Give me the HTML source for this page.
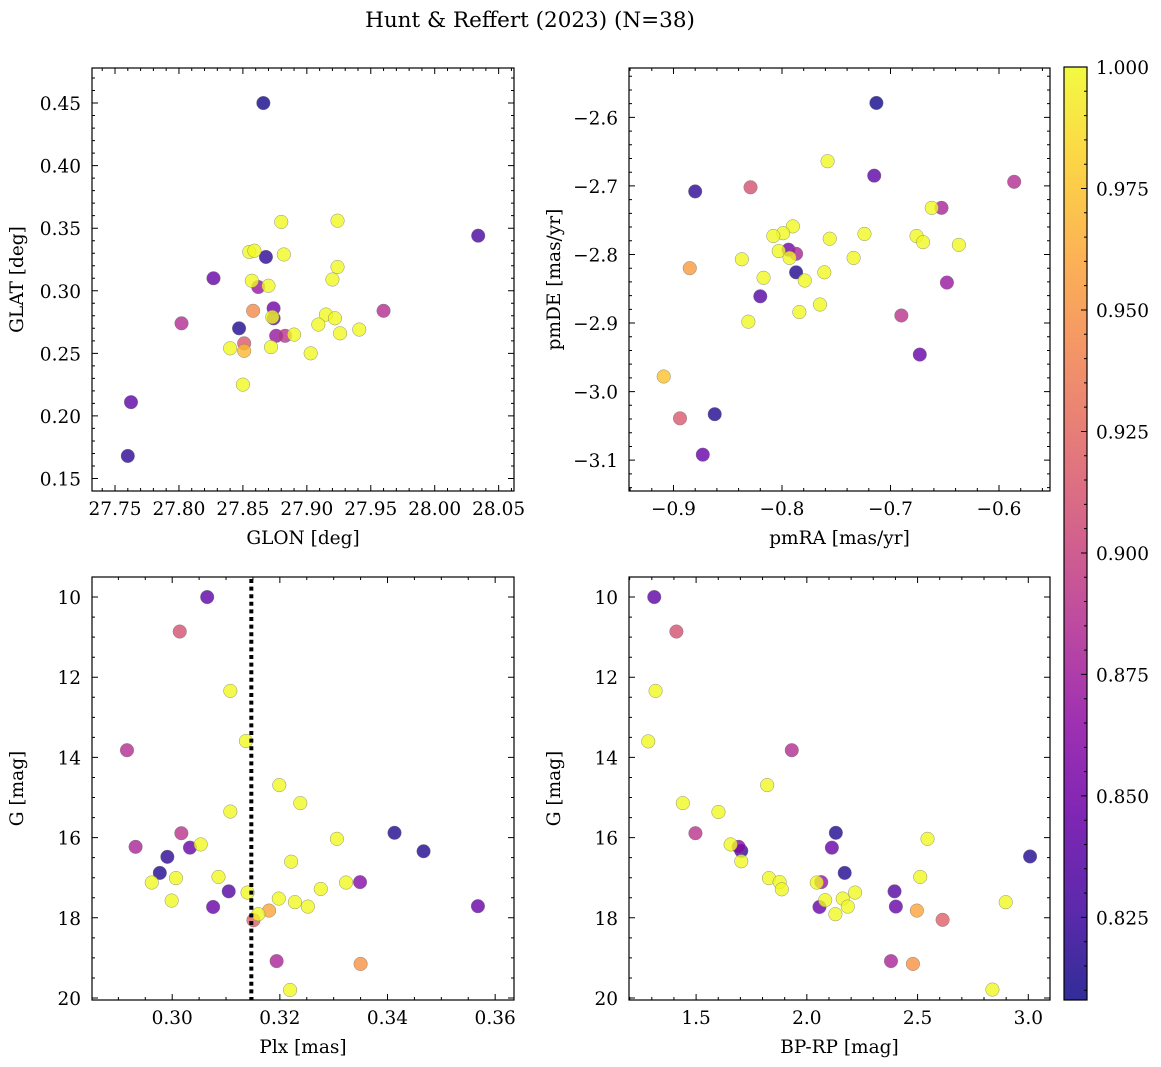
<!DOCTYPE html>
<html><head><meta charset="utf-8"><style>
body{margin:0;background:#fff;}
svg{display:block;font-family:"DejaVu Serif","Liberation Serif",serif;}
</style></head><body>
<svg id="fig" width="1161" height="1067" viewBox="0 0 1161 1067" xmlns="http://www.w3.org/2000/svg">
<defs>
<linearGradient id="plasma" x1="0" y1="1" x2="0" y2="0">
<stop offset="0" stop-color="#0d0887"/><stop offset="0.1" stop-color="#41049d"/><stop offset="0.2" stop-color="#6a00a8"/><stop offset="0.3" stop-color="#8f0da4"/><stop offset="0.4" stop-color="#b12a90"/><stop offset="0.5" stop-color="#cc4778"/><stop offset="0.6" stop-color="#e16462"/><stop offset="0.7" stop-color="#f2844b"/><stop offset="0.8" stop-color="#fca636"/><stop offset="0.9" stop-color="#fcce25"/><stop offset="1" stop-color="#f0f921"/>
</linearGradient>
</defs>
<text x="530" y="27" font-size="21.5" text-anchor="middle">Hunt &amp; Reffert (2023) (N=38)</text>
</svg>
<script>
// Panel 1: GLON / GLAT
const p1Glon=[27.866,28.034,27.7625,27.760,27.802,27.827,27.880,27.924,27.855,27.859,27.868,27.882,27.924,27.920,27.857,27.862,27.870,27.858,27.874,27.874,27.873,27.960,27.915,27.922,27.909,27.847,27.926,27.941,27.876,27.883,27.890,27.851,27.851,27.840,27.872,27.903,27.850];
const p1Glat=[0.450,0.344,0.211,0.168,0.274,0.310,0.355,0.356,0.331,0.332,0.327,0.329,0.319,0.309,0.308,0.303,0.304,0.284,0.286,0.278,0.279,0.284,0.281,0.278,0.273,0.270,0.266,0.269,0.264,0.264,0.265,0.258,0.252,0.254,0.255,0.250,0.225];
const p1Prob=[0.81,0.83,0.84,0.82,0.885,0.845,1,1,1,1,0.82,1,1,1,1,0.87,1,0.945,0.85,0.84,1,0.885,1,1,1,0.815,1,1,0.87,0.89,1,0.915,0.97,1,1,1,1];
// Panel 2: pmRA / pmDE
const p2PmRA=[-0.713,-0.758,-0.715,-0.586,-0.880,-0.829,-0.662,-0.653,-0.790,-0.799,-0.808,-0.756,-0.724,-0.676,-0.670,-0.637,-0.794,-0.787,-0.803,-0.793,-0.837,-0.734,-0.885,-0.787,-0.761,-0.779,-0.817,-0.648,-0.820,-0.765,-0.784,-0.690,-0.831,-0.673,-0.909,-0.862,-0.894,-0.873];
const p2PmDE=[-2.579,-2.664,-2.685,-2.694,-2.708,-2.702,-2.732,-2.732,-2.759,-2.769,-2.773,-2.777,-2.770,-2.773,-2.782,-2.786,-2.793,-2.799,-2.795,-2.805,-2.807,-2.805,-2.820,-2.826,-2.826,-2.838,-2.834,-2.841,-2.861,-2.873,-2.884,-2.889,-2.898,-2.946,-2.978,-3.033,-3.039,-3.092];
const p2Prob=[0.81,1,0.84,0.885,0.82,0.91,1,0.88,1,1,1,1,1,1,1,1,0.85,0.88,1,1,1,1,0.955,0.815,1,1,1,0.87,0.835,1,1,0.89,1,0.845,0.975,0.815,0.915,0.845];
// Panel 3: Plx / G
const p3Plx=[0.3065,0.3014,0.3108,0.3137,0.2916,0.3199,0.3238,0.3108,0.3017,0.3413,0.3306,0.2932,0.3033,0.3053,0.2991,0.3467,0.3221,0.2977,0.2962,0.3007,0.3086,0.3105,0.3323,0.3349,0.3276,0.3140,0.2999,0.3076,0.3198,0.3228,0.3252,0.3568,0.3180,0.3160,0.3151,0.3194,0.3350,0.3219];
const p3G=[10.0,10.86,12.34,13.59,13.82,14.69,15.14,15.35,15.89,15.88,16.03,16.23,16.25,16.17,16.48,16.34,16.60,16.88,17.12,17.01,16.98,17.34,17.12,17.11,17.28,17.37,17.57,17.73,17.52,17.61,17.72,17.71,17.82,17.91,18.06,19.08,19.15,19.80];
const p3Prob=[0.84,0.91,1,1,0.885,1,1,1,0.89,0.815,1,0.88,0.845,1,0.82,0.815,1,0.815,1,1,1,0.835,1,0.86,1,1,1,0.845,1,1,1,0.845,0.96,1,0.92,0.88,0.95,1];
const plxRef=0.3147;
// Panel 4: BP-RP / G
const p4Color=[1.311,1.411,1.317,1.284,1.932,1.821,1.440,1.601,1.497,2.131,2.545,2.113,1.656,1.692,1.704,3.008,1.704,2.171,1.829,1.877,1.887,2.065,2.045,2.512,2.218,2.396,2.162,2.083,2.185,2.057,2.402,2.129,2.497,2.898,2.613,2.380,2.479,2.838];
const p4G=[10.00,10.86,12.34,13.60,13.82,14.69,15.14,15.36,15.89,15.88,16.03,16.25,16.17,16.23,16.33,16.47,16.59,16.88,17.01,17.11,17.29,17.11,17.12,16.98,17.37,17.34,17.52,17.56,17.72,17.73,17.72,17.91,17.82,17.61,18.05,19.08,19.15,19.79];
const p4Prob=[0.84,0.91,1,1,0.885,1,1,1,0.89,0.815,1,0.845,1,0.86,0.82,0.815,1,0.815,1,1,1,0.87,1,1,1,0.835,1,1,1,0.845,0.845,1,0.96,1,0.92,0.88,0.95,1];
// Colorbar ticks
const cbTicks=[0.825,0.850,0.875,0.900,0.925,0.950,0.975,1.000];
const cMin=0.808,cMax=1.0;

const NS="http://www.w3.org/2000/svg";
const svg=document.getElementById('fig');
const FS=18.5;
const stops=[[13,8,135],[65,4,157],[106,0,168],[143,13,164],[177,42,144],[204,71,120],[225,100,98],[242,132,75],[252,166,54],[252,206,37],[240,249,33]];
function plasma(v){let t=(v-cMin)/(cMax-cMin);t=Math.max(0,Math.min(1,t))*10;const i=Math.min(9,Math.floor(t));const f=t-i;const a=stops[i],b=stops[i+1];return 'rgb('+[0,1,2].map(k=>Math.round(a[k]+(b[k]-a[k])*f)).join(',')+')';}
function mk(tag,attrs,parent){const e=document.createElementNS(NS,tag);for(const k in attrs)e.setAttribute(k,attrs[k]);(parent||svg).appendChild(e);return e;}
function fmt(v,d){const s=Math.abs(v).toFixed(d);return (v<-1e-9?'\u2212':'')+s;}

function panel(o){
  const g=mk('g',{});
  
  
  const sx=v=>o.x0+(v-o.xd[0])/(o.xd[1]-o.xd[0])*(o.x1-o.x0);
  const sy=v=>o.y1-(v-o.yd[0])/(o.yd[1]-o.yd[0])*(o.y1-o.y0);
  const pg=mk('g',{},g);
  
  
  const idx=o.xs.map((_,i)=>i).sort((a,b)=>o.cs[a]-o.cs[b]);
  idx.forEach(i=>{
    const c=mk('circle',{cx:sx(o.xs[i]),cy:sy(o.ys[i]),r:6.8,fill:plasma(o.cs[i]),'fill-opacity':0.8,stroke:'#777','stroke-width':0.5,'stroke-opacity':0.8},pg);
    
    
  });
  if(o.vline!==undefined){
    const l=mk('line',{x1:sx(o.vline),x2:sx(o.vline),y1:o.y0+2,y2:o.y1,stroke:'#000','stroke-width':4,'stroke-dasharray':'4 3.6'},g);
    
    
  }
  const fr=mk('rect',{x:o.x0,y:o.y0,width:o.x1-o.x0,height:o.y1-o.y0,fill:'none',stroke:'#000','stroke-width':1.2},g);
  
  
  let path='';
  const eps=1e-9;
  for(let v=Math.ceil(o.xd[0]/o.xmin-eps)*o.xmin;v<=o.xd[1]+eps;v+=o.xmin){const x=sx(v);path+=`M${x},${o.y1}v-3M${x},${o.y0}v3`;}
  for(let v=Math.ceil(o.yd[0]/o.ymin-eps)*o.ymin;v<=o.yd[1]+eps;v+=o.ymin){const y=sy(v);path+=`M${o.x0},${y}h3M${o.x1},${y}h-3`;}
  o.xt.forEach(v=>{const x=sx(v);path+=`M${x},${o.y1}v-6M${x},${o.y0}v6`;
    const t=mk('text',{x:x,y:o.y1+24,'font-size':FS,'text-anchor':'middle'},g);t.textContent=fmt(v,o.xdec);
    });
  o.yt.forEach(v=>{const y=sy(v);path+=`M${o.x0},${y}h6M${o.x1},${y}h-6`;
    const t=mk('text',{x:o.x0-11,y:y+7,'font-size':FS,'text-anchor':'end'},g);t.textContent=fmt(v,o.ydec);
    });
  const tp=mk('path',{d:path,stroke:'#000','stroke-width':1,fill:'none'},g);
  
  
  const xl=mk('text',{x:(o.x0+o.x1)/2,y:o.y1+53,'font-size':FS,'text-anchor':'middle'},g);xl.textContent=o.xlab;
  
  const yc=(o.y0+o.y1)/2;
  const yx=o.x0-69;
  const yl=mk('text',{x:yx,y:yc,'font-size':FS,'text-anchor':'middle',transform:`rotate(-90 ${yx} ${yc})`},g);yl.textContent=o.ylab;
  
}

panel({name:'glon-glat-panel',x0:92,x1:514,y0:68,y1:491,xd:[27.732,28.062],yd:[0.140,0.478],xs:p1Glon,ys:p1Glat,cs:p1Prob,
  xt:[27.75,27.80,27.85,27.90,27.95,28.00,28.05],yt:[0.15,0.20,0.25,0.30,0.35,0.40,0.45],xmin:0.01,ymin:0.01,xdec:2,ydec:2,xlab:'GLON [deg]',ylab:'GLAT [deg]'});
panel({name:'proper-motion-panel',x0:629,x1:1050,y0:68,y1:491,xd:[-0.941,-0.553],yd:[-3.145,-2.528],xs:p2PmRA,ys:p2PmDE,cs:p2Prob,
  xt:[-0.9,-0.8,-0.7,-0.6],yt:[-3.1,-3.0,-2.9,-2.8,-2.7,-2.6],xmin:0.02,ymin:0.02,xdec:1,ydec:1,xlab:'pmRA [mas/yr]',ylab:'pmDE [mas/yr]'});
panel({name:'parallax-magnitude-panel',x0:92,x1:514,y0:577,y1:1000,xd:[0.2851,0.3635],yd:[-20.05,-9.5],xs:p3Plx,ys:p3G.map(v=>-v),cs:p3Prob,vline:plxRef,
  xt:[0.30,0.32,0.34,0.36],yt:[-20,-18,-16,-14,-12,-10],xmin:0.005,ymin:0.5,xdec:2,ydec:0,xlab:'Plx [mas]',ylab:'G [mag]'});
panel({name:'color-magnitude-panel',x0:629,x1:1050,y0:577,y1:1000,xd:[1.197,3.098],yd:[-20.05,-9.5],xs:p4Color,ys:p4G.map(v=>-v),cs:p4Prob,
  xt:[1.5,2.0,2.5,3.0],yt:[-20,-18,-16,-14,-12,-10],xmin:0.1,ymin:0.5,xdec:1,ydec:0,xlab:'BP-RP [mag]',ylab:'G [mag]'});
document.querySelectorAll('text').forEach(t=>{if(/^\u2212(10|12|14|16|18|20)$/.test(t.textContent))t.textContent=t.textContent.slice(1);});

const cb=mk('g',{});


const cx0=1064,cx1=1087,cy0=67,cy1=1000;
const cr=mk('rect',{x:cx0,y:cy0,width:cx1-cx0,height:cy1-cy0,fill:'url(#plasma)','fill-opacity':0.85,stroke:'#000','stroke-width':1.2},cb);


const cyS=v=>cy1-(v-cMin)/(cMax-cMin)*(cy1-cy0);
let cp='';
for(let v=0.81;v<=1.0001;v+=0.005){cp+=`M${cx1},${cyS(v)}h-3`;}
cbTicks.forEach(v=>{const y=cyS(v);cp+=`M${cx1},${y}h-6`;
  const t=mk('text',{x:1096,y:y+7,'font-size':FS},cb);t.textContent=v.toFixed(3);
  });
const cpe=mk('path',{d:cp,stroke:'#000','stroke-width':1},cb);


</script>
</body></html>
